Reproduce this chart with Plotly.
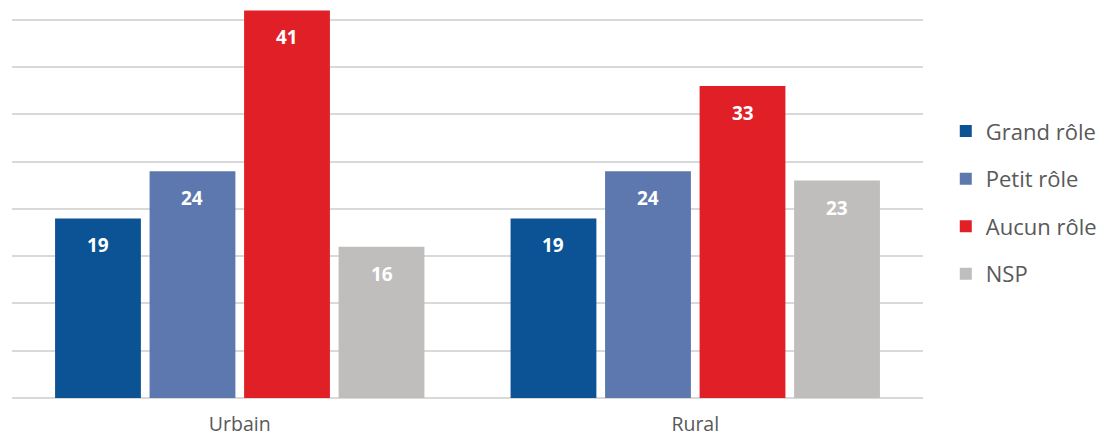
import plotly.graph_objects as go

# Survey results: role attributed, by area type (in %)
categories = ["Urbain", "Rural"]
series_names = ["Grand rôle", "Petit rôle", "Aucun rôle", "NSP"]
grand_role = [19, 19]
petit_role = [24, 24]
aucun_role = [41, 33]
nsp = [16, 23]

series_values = [grand_role, petit_role, aucun_role, nsp]
colors = ["#0B5395", "#5C78AE", "#E11F26", "#BFBEBD"]

BARGAP = 0.17
GROUPGAP = 0.092

fig = go.Figure()
for i, (name, vals, col) in enumerate(zip(series_names, series_values, colors)):
    fig.add_trace(go.Bar(
        x=categories, y=vals, name=name, legendgroup=name,
        marker=dict(color=col, line=dict(width=0)),
        hoverinfo="skip",
    ))

# Value labels placed inside the top of each bar
n = len(series_names)
group_w = 1 - BARGAP
slot = group_w / n
annotations = []
for i, vals in enumerate(series_values):
    for c, v in enumerate(vals):
        annotations.append(dict(
            x=c - group_w / 2 + slot * (i + 0.5), y=v,
            xref="x", yref="y", text=f"<b>{v}</b>", showarrow=False,
            yanchor="middle", yshift=-27,
            font=dict(family="Open Sans", size=19, color="white"),
        ))

fig.update_layout(
    width=1104, height=439,
    margin=dict(l=12, r=180, t=2, b=39),
    paper_bgcolor="white", plot_bgcolor="white",
    barmode="group", bargap=BARGAP, bargroupgap=GROUPGAP,
    font=dict(family="Open Sans", color="#595959", size=19),
    showlegend=True,
    legend=dict(
        x=1.025, xanchor="left", y=0.493, yanchor="middle",
        font=dict(family="Open Sans", size=22, color="#595959"),
        tracegroupgap=16, itemclick=False, itemdoubleclick=False,
        bgcolor="rgba(0,0,0,0)",
    ),
    annotations=annotations,
)
fig.update_xaxes(
    showgrid=False, showline=False, ticks="",
    tickfont=dict(family="Open Sans", size=19.5, color="#595959"),
    ticklabelstandoff=12,
)
fig.update_yaxes(
    range=[0, 398 / 9.5], dtick=5, showticklabels=False,
    showgrid=True, gridcolor="#D9D9D9", gridwidth=1.5,
    zeroline=True, zerolinecolor="#D9D9D9", zerolinewidth=1.5,
    showline=False, ticks="",
)

fig.write_html("out.html")
